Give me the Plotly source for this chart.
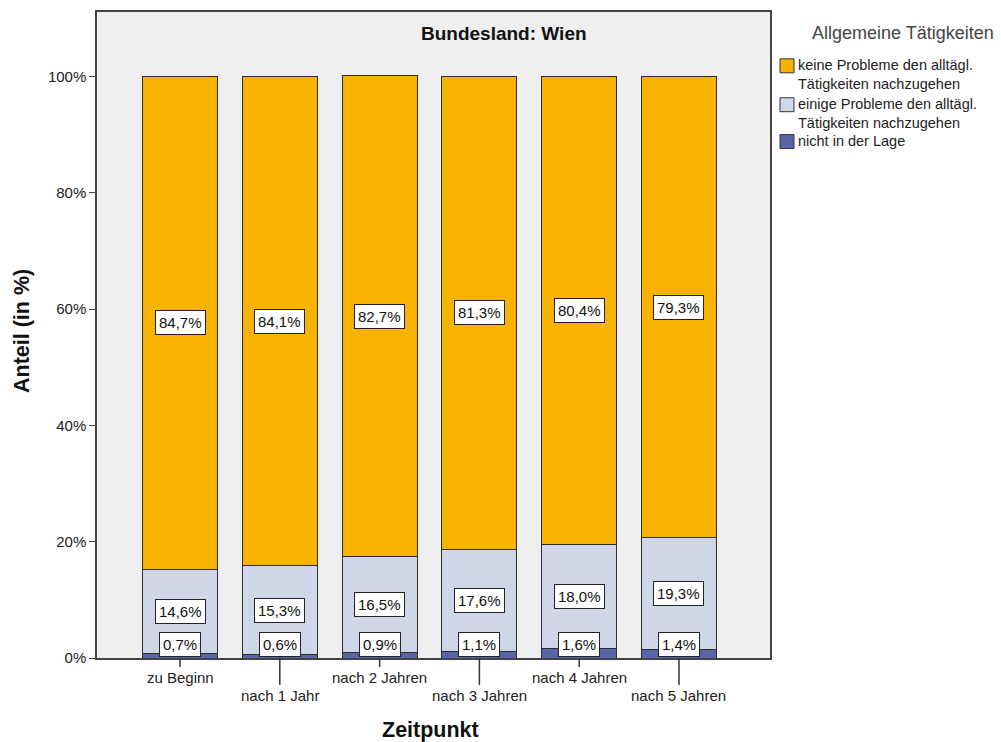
import plotly.graph_objects as go

# Zeitpunkte der Erhebung
zeitpunkte = ["zu Beginn", "nach 1 Jahr", "nach 2 Jahren", "nach 3 Jahren", "nach 4 Jahren", "nach 5 Jahren"]

# Anteile in % je Kategorie
nicht_in_der_lage = [0.7, 0.6, 0.9, 1.1, 1.6, 1.4]
einige_probleme = [14.6, 15.3, 16.5, 17.6, 18.0, 19.3]
keine_probleme = [84.7, 84.1, 82.7, 81.3, 80.4, 79.3]

y_ticks = [0, 20, 40, 60, 80, 100]

legend_titel = "Allgemeine Tätigkeiten"
legend_eintraege = [
    ("keine Probleme den alltägl.<br>Tätigkeiten nachzugehen", "#F8B200"),
    ("einige Probleme den alltägl.<br>Tätigkeiten nachzugehen", "#CFD6E8"),
    ("nicht in der Lage", "#5866A9"),
]

FONT = "Liberation Sans, Arial, sans-serif"
W, H = 1001, 742
ML, MR, MT, MB = 97, 231, 10, 84
PW, PH = W - ML - MR, H - MT - MB


def px(x):
    return (x - ML) / PW


def py(y):
    return (H - MB - y) / PH


x_pos = list(range(len(zeitpunkte)))

series = [
    ("nicht in der Lage", nicht_in_der_lage, "#5866A9"),
    ("einige Probleme", einige_probleme, "#CFD6E8"),
    ("keine Probleme", keine_probleme, "#F8B200"),
]

fig = go.Figure()
for name, vals, col in series:
    fig.add_trace(go.Bar(
        x=x_pos, y=vals, name=name, width=0.75, showlegend=False,
        marker=dict(color=col, line=dict(color="#2E2E2E", width=1)),
        hoverinfo="skip",
    ))

annotations = []
shapes = []
box = dict(bgcolor="white", bordercolor="#222222", borderwidth=1, borderpad=3,
           showarrow=False, font=dict(family=FONT, size=15, color="#111111"))


def pct(v):
    return f"{v:.1f}%".replace(".", ",")


for i in x_pos:
    n, e, k = nicht_in_der_lage[i], einige_probleme[i], keine_probleme[i]
    annotations.append(dict(x=i, y=n + e + k / 2, xref="x", yref="y", text=pct(k), **box))
    annotations.append(dict(x=i, y=n + e / 2, xref="x", yref="y", text=pct(e), **box))
    # unteres Segment ist zu schmal: Beschriftung direkt über der Achse
    annotations.append(dict(x=i, y=0, xref="x", yref="y", yanchor="bottom", yshift=1,
                            text=pct(n), **box))
    # versetzte Kategorienbeschriftung mit Tickstrich
    low = i % 2 == 1
    annotations.append(dict(x=i, y=0, xref="x", yref="paper", xanchor="center", yanchor="middle",
                            yshift=-37 if low else -19, text=zeitpunkte[i], showarrow=False,
                            font=dict(family=FONT, size=15, color="#222222")))
    shapes.append(dict(type="line", xref="x", yref="paper", x0=i, x1=i, y0=0,
                       y1=-(27 if low else 9) / PH, line=dict(color="#333333", width=1.5)))


def text_at(x, y, text, size, color="#111111", **kw):
    d = dict(x=px(x), y=py(y), xref="paper", yref="paper", text=text, showarrow=False,
             xanchor="center", yanchor="middle", font=dict(family=FONT, size=size, color=color))
    d.update(kw)
    annotations.append(d)


# Titel der Plotfläche
text_at(504, 32, "<b>Bundesland: Wien</b>", 19)
# Achsentitel
text_at(22, 330, "<b>Anteil (in %)</b>", 21.5, textangle=-90)
text_at(430, 730, "<b>Zeitpunkt</b>", 21.5)

# Legende: Farbfeld plus (ggf. zweizeiliger) Text, am oberen Rand ausgerichtet
text_at(903, 31, legend_titel, 18, color="#444444")
sq_top = [57, 96, 133]
for (label, col), top in zip(legend_eintraege, sq_top):
    shapes.append(dict(type="rect", xref="paper", yref="paper", x0=px(780), x1=px(794),
                       y0=py(top), y1=py(top + 14), fillcolor=col,
                       line=dict(color="#333333", width=1)))
    text_at(797, top - 3, label, 14.5, color="#222222", xanchor="left", yanchor="top",
            align="left", borderpad=0)

fig.update_layout(
    width=W, height=H,
    margin=dict(l=ML, r=MR, t=MT, b=MB),
    barmode="stack",
    paper_bgcolor="white",
    plot_bgcolor="#EFEFEF",
    font=dict(family=FONT, size=15, color="#222222"),
    showlegend=False,
    xaxis=dict(range=[-0.832, 5.912], showticklabels=False, ticks="", showgrid=False,
               zeroline=False, showline=True, linecolor="#444444", linewidth=1.5, mirror=True),
    yaxis=dict(range=[0, 111.1], tickvals=y_ticks, ticktext=[f"{v}%" for v in y_ticks],
               ticks="outside", ticklen=6, tickcolor="#444444", showgrid=False, zeroline=False,
               showline=True, linecolor="#444444", linewidth=1.5, mirror=True,
               tickfont=dict(family=FONT, size=15, color="#222222")),
    annotations=annotations,
    shapes=shapes,
)

fig.write_html("out.html")
